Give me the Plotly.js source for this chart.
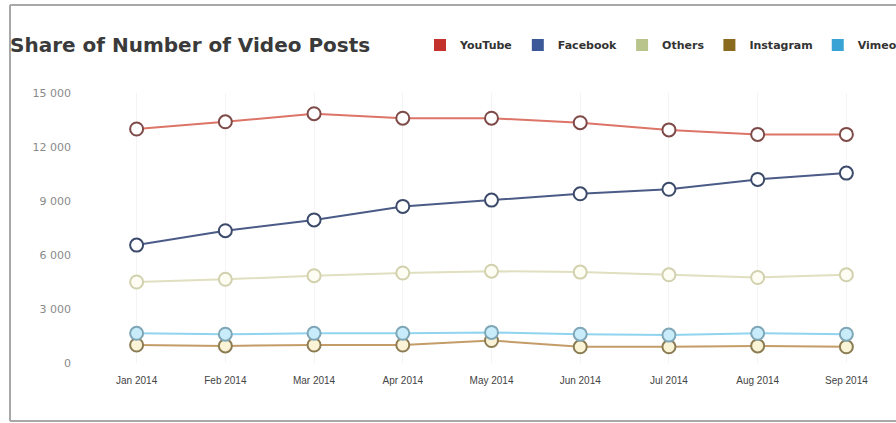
<!DOCTYPE html>
<html>
<head>
<meta charset="utf-8">
<script src="https://cdn.plot.ly/plotly-3.0.1.min.js"></script>
<style>
  html, body { margin: 0; padding: 0; background: #fff; overflow: hidden; width: 896px; height: 423px; }
  ::-webkit-scrollbar { display: none; width: 0; height: 0; }
  html { scrollbar-width: none; }
  #chart { position: absolute; left: 0; top: 0; width: 896px; height: 423px; }
</style>
</head>
<body>
<div id="chart"></div>
<script>
const months = ['Jan 2014','Feb 2014','Mar 2014','Apr 2014','May 2014','Jun 2014','Jul 2014','Aug 2014','Sep 2014'];
const youtube   = [13000, 13400, 13850, 13600, 13600, 13350, 12950, 12700, 12700];
const facebook  = [6550, 7350, 7950, 8700, 9050, 9400, 9650, 10200, 10550];
const others    = [4500, 4650, 4850, 5000, 5100, 5050, 4900, 4750, 4900];
const instagram = [1000, 950, 1000, 1000, 1250, 900, 900, 950, 900];
const vimeo     = [1650, 1600, 1650, 1650, 1700, 1600, 1550, 1650, 1600];
const seriesNames = ['YouTube', 'Facebook', 'Others', 'Instagram', 'Vimeo'];
const yTicks = [0, 3000, 6000, 9000, 12000, 15000];

const styles = {
  YouTube:   {legend: '#c4302b', line: '#dc7468', mline: '#7e4a48', fill: '#ffffff'},
  Facebook:  {legend: '#3b5998', line: '#4b5b87', mline: '#3c4a6a', fill: '#ffffff'},
  Others:    {legend: '#b9c48c', line: '#e0dfc0', mline: '#d2d1ae', fill: '#fdfdf4'},
  Instagram: {legend: '#8a6a1e', line: '#c49c68', mline: '#8c7c54', fill: '#fbf3d6'},
  Vimeo:     {legend: '#3aa3d6', line: '#90d4f0', mline: '#7fa6b6', fill: '#c8ecfa'}
};
const dataBy = {YouTube: youtube, Facebook: facebook, Others: others, Instagram: instagram, Vimeo: vimeo};

const drawOrder = ['Others', 'Instagram', 'Vimeo', 'Facebook', 'YouTube'];
const traces = [];
drawOrder.forEach(name => {
  const s = styles[name];
  traces.push({
    type: 'scatter', mode: 'lines+markers', name: name,
    x: months, y: dataBy[name], showlegend: false,
    line: {color: s.line, width: 2},
    marker: {symbol: 'circle', size: 13, color: s.fill, line: {color: s.mline, width: 2}},
    cliponaxis: false
  });
});
seriesNames.forEach((name, i) => {
  const s = styles[name];
  traces.push({
    type: 'scatter', mode: 'markers', name: name, legendrank: i + 1,
    x: [null], y: [null], showlegend: true,
    marker: {symbol: 'square', size: 12, color: s.legend}
  });
});

const W = 896, H = 423;
const L = 110, R = 873, T = 93, B = 363;
const pw = R - L, ph = B - T;
const px = v => (v - L) / pw;
const py = v => (B - v) / ph;
const frameStyle = {color: '#a8a8a8', width: 2};
const layout = {
  width: W, height: H,
  margin: {l: L, r: W - R, t: T, b: H - B, autoexpand: false},
  paper_bgcolor: '#ffffff', plot_bgcolor: '#ffffff',
  separators: '. ',
  font: {family: 'Liberation Sans, Arial, sans-serif', color: '#444'},
  title: {
    text: 'Share of Number of Video Posts',
    xref: 'container', x: 10 / W, xanchor: 'left',
    yref: 'container', y: 1 - 45 / H, yanchor: 'middle',
    font: {family: 'DejaVu Sans, sans-serif', size: 20, weight: 'bold', color: '#3a3a3a'}
  },
  showlegend: true,
  legend: {
    orientation: 'h', x: px(420), xanchor: 'left',
    y: py(45), yanchor: 'middle',
    font: {family: 'DejaVu Sans, sans-serif', size: 11, weight: 'bold', color: '#333'},
    traceorder: 'normal', bgcolor: 'rgba(0,0,0,0)'
  },
  shapes: [
    {type: 'line', xref: 'paper', yref: 'paper', x0: px(10), x1: px(10), y0: py(5), y1: py(421), line: frameStyle},
    {type: 'line', xref: 'paper', yref: 'paper', x0: px(10), x1: px(940), y0: py(5), y1: py(5), line: frameStyle},
    {type: 'line', xref: 'paper', yref: 'paper', x0: px(10), x1: px(940), y0: py(421), y1: py(421), line: frameStyle}
  ],
  xaxis: {
    type: 'category', range: [-0.3, 8.3],
    showgrid: true, gridcolor: '#f4f4f4', gridwidth: 1,
    showline: false, zeroline: false, ticks: '',
    ticklabelstandoff: 10,
    tickfont: {size: 10, color: '#444'}
  },
  yaxis: {
    range: [0, 15000], tickvals: yTicks, tickformat: ',',
    showgrid: false, zeroline: false, showline: false, ticks: '',
    ticklabelstandoff: 38,
    tickfont: {family: 'DejaVu Sans, sans-serif', size: 11, color: '#8a8a8a'}
  }
};

Plotly.newPlot('chart', traces, layout, {displayModeBar: false, staticPlot: true});
</script>
</body>
</html>
